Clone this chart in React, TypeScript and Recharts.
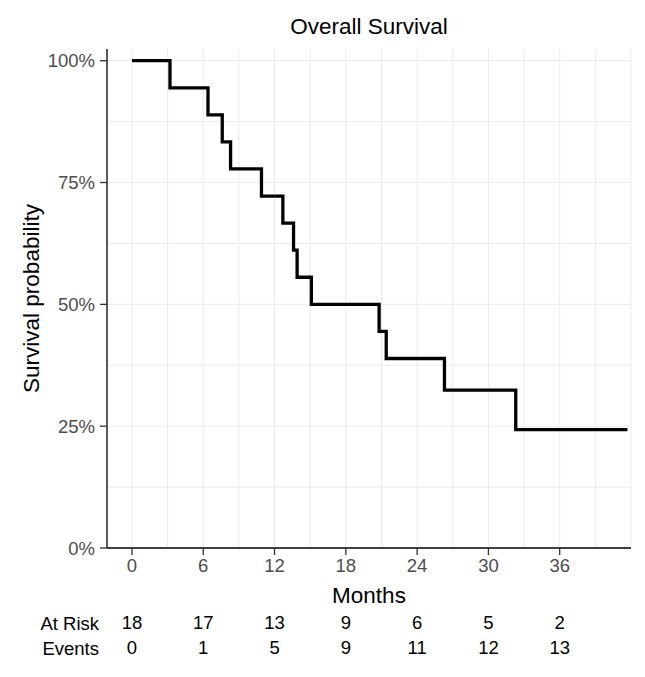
import React from 'react';
import { LineChart, Line, XAxis, YAxis, ReferenceLine, Label } from 'recharts';

// Kaplan–Meier estimate: event times (months) and survival after each step
const eventMonths = [0, 3.2, 6.4, 7.6, 8.3, 10.9, 12.7, 13.6, 13.9, 15.1, 20.8, 21.4, 26.3, 32.3, 41.7];
const survivalProb = [1, 0.9444, 0.8889, 0.8333, 0.7778, 0.7222, 0.6667, 0.6111, 0.5556, 0.5, 0.4444, 0.3889, 0.3241, 0.2431, 0.2431];

const monthTicks = [0, 6, 12, 18, 24, 30, 36];
const monthGrid = [0, 3, 6, 9, 12, 15, 18, 21, 24, 27, 30, 33, 36, 39, 42];
const probTicks = [0, 0.25, 0.5, 0.75, 1];
const probGrid = [0.125, 0.25, 0.375, 0.5, 0.625, 0.75, 0.875, 1];

const atRisk = [18, 17, 13, 9, 6, 5, 2];
const eventCounts = [0, 1, 5, 9, 11, 12, 13];

const data = eventMonths.map((m, i) => ({ month: m, survival: survivalProb[i] }));

const FONT = '"Liberation Sans", Arial, Helvetica, sans-serif';
const GRID = '#ebebeb';
const TICK_SIZE = 18.5;
const TITLE_SIZE = 22.5;

const YTitle = (props: any) => {
  const vb = props.viewBox || {};
  const cx = 31;
  const cy = vb.y + vb.height / 2;
  return (
    <text
      x={cx}
      y={cy}
      transform={`rotate(-90 ${cx} ${cy})`}
      textAnchor="middle"
      dominantBaseline="central"
      fontFamily={FONT}
      fontSize={TITLE_SIZE}
      fill="#000"
    >
      Survival probability
    </text>
  );
};

export default function App() {
  return (
    <div style={{ position: 'absolute', left: 0, top: 0, width: 645, height: 677, background: '#fff', fontFamily: FONT }}>
      <div
        style={{
          position: 'absolute',
          left: 107,
          width: 524,
          top: 13,
          textAlign: 'center',
          fontSize: TITLE_SIZE,
          color: '#000',
          lineHeight: '28px',
        }}
      >
        Overall Survival
      </div>
      <LineChart
        width={645}
        height={677}
        data={data}
        margin={{ top: 49, right: 14, bottom: 19, left: 0 }}
        style={{ position: 'absolute', left: 0, top: 0 }}
      >
        <XAxis
          xAxisId="a_months"
          dataKey="month"
          type="number"
          domain={[-2.1, 42]}
          ticks={monthTicks}
          allowDataOverflow
          height={60}
          tickSize={7}
          tickMargin={4}
          axisLine={{ stroke: '#000', strokeWidth: 1.3 }}
          tickLine={{ stroke: '#333', strokeWidth: 1.3 }}
          tick={{ fill: '#4d4d4d', fontSize: TICK_SIZE, fontFamily: FONT }}
        >
          <Label value="Months" position="insideBottom" offset={5} fill="#000" fontSize={TITLE_SIZE} fontFamily={FONT} />
        </XAxis>
        <XAxis
          xAxisId="b_risk"
          dataKey="month"
          type="number"
          domain={[-2.1, 42]}
          ticks={monthTicks}
          allowDataOverflow
          height={30}
          tickSize={0}
          tickMargin={8.3}
          axisLine={false}
          tickLine={false}
          tickFormatter={(v: number) => String(atRisk[monthTicks.indexOf(v)])}
          tick={{ fill: '#000', fontSize: TICK_SIZE, fontFamily: FONT }}
        >
          <Label value="At Risk" position="left" offset={8} fill="#000" fontSize={TICK_SIZE} fontFamily={FONT} />
        </XAxis>
        <XAxis
          xAxisId="c_events"
          dataKey="month"
          type="number"
          domain={[-2.1, 42]}
          ticks={monthTicks}
          allowDataOverflow
          height={20}
          tickSize={0}
          tickMargin={3.3}
          axisLine={false}
          tickLine={false}
          tickFormatter={(v: number) => String(eventCounts[monthTicks.indexOf(v)])}
          tick={{ fill: '#000', fontSize: TICK_SIZE, fontFamily: FONT }}
        >
          <Label value="Events" position="left" offset={8} fill="#000" fontSize={TICK_SIZE} fontFamily={FONT} />
        </XAxis>
        <YAxis
          type="number"
          domain={[0, 1.024]}
          ticks={probTicks}
          allowDataOverflow
          width={107}
          tickSize={7}
          tickMargin={5}
          axisLine={{ stroke: '#000', strokeWidth: 1.3 }}
          tickLine={{ stroke: '#333', strokeWidth: 1.3 }}
          tickFormatter={(v: number) => `${Math.round(v * 100)}%`}
          tick={{ fill: '#4d4d4d', fontSize: TICK_SIZE, fontFamily: FONT }}
        >
          <Label content={YTitle} />
        </YAxis>
        {monthGrid.map((m) => (
          <ReferenceLine key={`vx${m}`} xAxisId="a_months" x={m} stroke={GRID} strokeWidth={1} />
        ))}
        {probGrid.map((p) => (
          <ReferenceLine key={`hy${p}`} xAxisId="a_months" y={p} stroke={GRID} strokeWidth={1} />
        ))}
        <Line
          xAxisId="a_months"
          type="stepAfter"
          dataKey="survival"
          stroke="#000"
          strokeWidth={3.3}
          dot={false}
          activeDot={false}
          isAnimationActive={false}
        />
      </LineChart>
    </div>
  );
}
